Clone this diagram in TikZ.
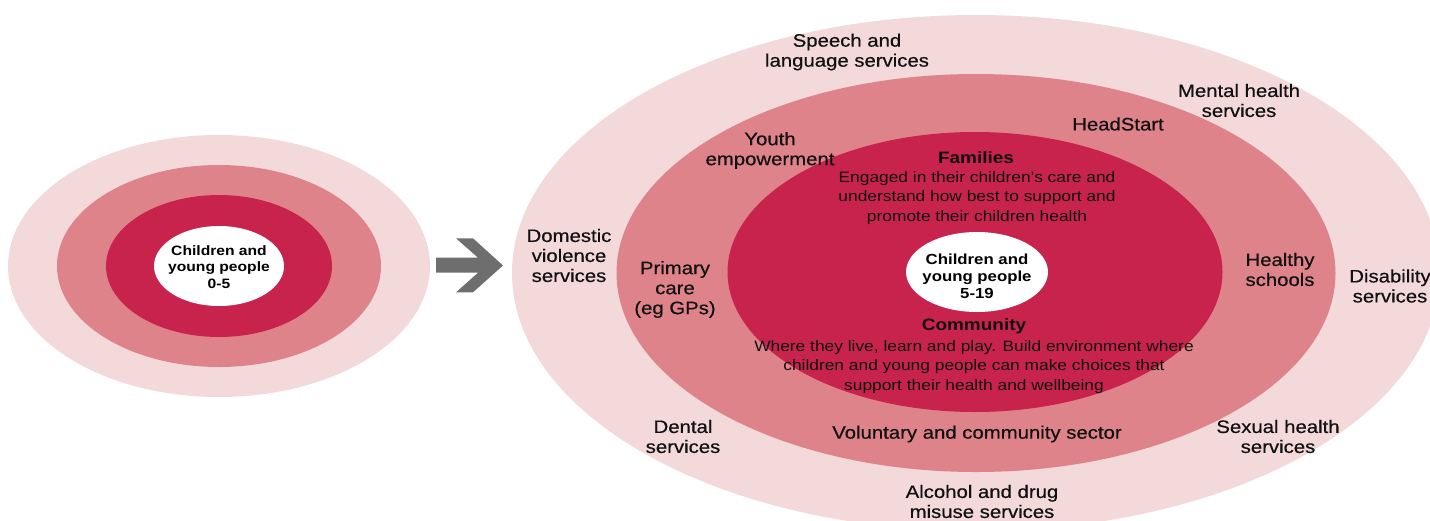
\documentclass[tikz,border=0pt]{standalone}
\usepackage{fontspec}
\setmainfont{Liberation Sans}[FakeStretch=1.15]
\newfontfamily\medfont{Liberation Sans}[FakeStretch=1.13, FakeBold=0.5]
\definecolor{ringA}{HTML}{F3D9DA}
\definecolor{ringB}{HTML}{DF838B}
\definecolor{ringC}{HTML}{C8234C}
\definecolor{arrowgray}{HTML}{6E6E6E}
\definecolor{txt}{HTML}{111111}
\begin{document}
\begin{tikzpicture}[x=1pt,y=-1pt,
  lbl/.style={align=center, text=txt, font=\medfont\fontsize{18}{20}\selectfont, inner sep=0pt},
  desc/.style={align=center, text=txt, font=\fontsize{15.1}{19.5}\selectfont, inner sep=0pt},
  hd/.style={align=center, text=txt, font=\bfseries\fontsize{16.5}{20}\selectfont, inner sep=0pt},
  ctr/.style={align=center, text=black, font=\bfseries\fontsize{14.6}{17.2}\selectfont, inner sep=0pt},
  ctrsmall/.style={align=center, text=black, font=\bfseries\fontsize{13.6}{16.5}\selectfont, inner sep=0pt}]
\useasboundingbox (0,0) rectangle (1430,520);
\clip (0,0) rectangle (1430,520);
% left rings
\fill[ringA] (219,266) ellipse [x radius=211pt, y radius=131pt];
\fill[ringB] (219,266) ellipse [x radius=162pt, y radius=101pt];
\fill[ringC] (219,266) ellipse [x radius=113pt, y radius=71pt];
\fill[white] (219,266) ellipse [x radius=65pt, y radius=40pt];
\node[ctrsmall] (c05) at (219,267) {Children and\\young people\\0-5};
% arrow
\fill[arrowgray] (436,257.7) -- (478,257.7) -- (456,238.3) -- (473,238.3) -- (503,265.5)
  -- (473,292.3) -- (456,292.3) -- (478,272.7) -- (436,272.7) -- cycle;
% right rings
\fill[ringA] (976,273) ellipse [x radius=464pt, y radius=258pt];
\fill[ringB] (976,273) ellipse [x radius=359.5pt, y radius=199pt];
\fill[ringC] (975,272) ellipse [x radius=247.5pt, y radius=140pt];
\fill[white] (977,272) ellipse [x radius=71pt, y radius=40pt];
\node[ctr] (c519) at (977,276) {Children and\\young people\\5-19};
% outer ring labels
\node[lbl] (speech) at (847,52) {Speech and\\language services};
\node[lbl] (mental) at (1239,100.5) {Mental health\\services};
\node[lbl] (domestic) at (569,255.5) {Domestic\\violence\\services};
\node[lbl] (disab) at (1390,286) {Disability\\services};
\node[lbl] (dental) at (683,436.5) {Dental\\services};
\node[lbl] (sexual) at (1278,436.5) {Sexual health\\services};
\node[lbl] (alcohol) at (982,501.5) {Alcohol and drug\\misuse services};
% middle ring labels
\node[lbl] (head) at (1118,124) {HeadStart};
\node[lbl] (youth) at (770,150.5) {Youth\\empowerment};
\node[lbl] (primary) at (675,289.5) {Primary\\care\\(eg GPs)};
\node[lbl] (healthy) at (1280,269.5) {Healthy\\schools};
\node[lbl] (vol) at (977,434) {Voluntary and community sector};
% inner ring labels
\node[hd] (fam) at (976,158) {Families};
\node[desc] (famd) at (977,198) {Engaged in their children’s care and\\understand how best to support and\\promote their children health};
\node[hd] (comm) at (974,326) {Community};
\node[desc] (commd) at (974,367) {Where they live, learn and play. Build environment where\\children and young people can make choices that\\support their health and wellbeing};
\end{tikzpicture}
\end{document}
